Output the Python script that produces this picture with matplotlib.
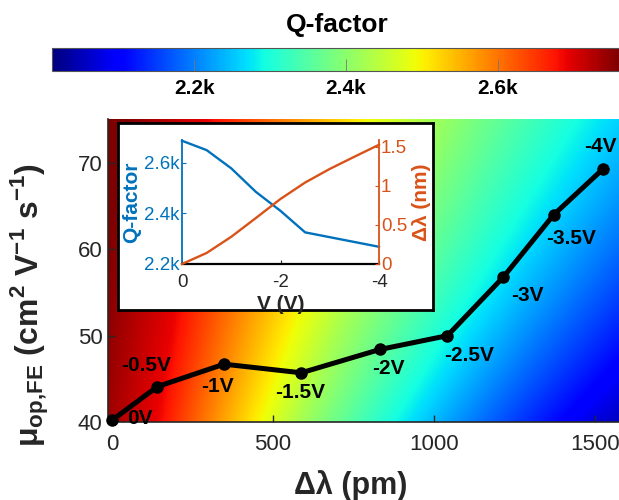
"""
Field-effect optical mobility vs. resonance shift, coloured by Q-factor,
with an inset of Q-factor and shift against gate voltage.
"""

import numpy as np
import matplotlib
import matplotlib.pyplot as plt
from matplotlib.colors import Normalize
from matplotlib.cm import ScalarMappable
from matplotlib.ticker import FuncFormatter

plt.rcParams['font.family'] = ['Liberation Sans', 'DejaVu Sans']
plt.rcParams['mathtext.fontset'] = 'custom'
plt.rcParams['mathtext.rm'] = 'Liberation Sans'
plt.rcParams['mathtext.bf'] = 'Liberation Sans:bold'
plt.rcParams['axes.unicode_minus'] = False

# Data
volts = [0, -0.5, -1, -1.5, -2, -2.5, -3, -3.5, -4]
shift_pm = [0, 141, 348, 588, 832, 1042, 1216, 1372, 1525]
mobility = [40.2, 44.1, 46.7, 45.7, 48.4, 50.0, 56.8, 64.0, 69.3]
q_factor_k = [2.687, 2.650, 2.578, 2.485, 2.410, 2.325, 2.306, 2.287, 2.268]
point_labels = ['0V', '-0.5V', '-1V', '-1.5V', '-2V', '-2.5V', '-3V', '-3.5V', '-4V']

q_ticks = [2.2, 2.4, 2.6]
q_range = (2.0125, 2.76)

# label offsets from each point, in pixels (right, down)
label_offsets = [(28, -2), (-11, -21), (-7, 22), (-1, 20), (9, 19),
                 (22, 20), (24, 19), (17, 24), (-3, -23)]

W, H = 619, 500
blue = '#0072BD'
orange = '#D95319'
gray = '#262626'


def rect(l, t, r, b):
    # figure-pixel box -> figure fraction [left, bottom, width, height]
    return [l / W, 1 - b / H, (r - l) / W, (b - t) / H]


fig = plt.figure(figsize=(W / 100, H / 100), dpi=100)

# ---- colorbar on top
norm = Normalize(*q_range)
sm = ScalarMappable(norm=norm, cmap='jet')
cax = fig.add_axes(rect(52, 48, 619, 71))
cb = fig.colorbar(sm, cax=cax, orientation='horizontal', ticks=q_ticks)
cb.outline.set_edgecolor('#555555')
cb.outline.set_linewidth(0.8)
cax.tick_params(direction='in', length=9, width=0.6, color='#777777',
                labelsize=15, pad=6, labelcolor='black')
cax.xaxis.set_major_formatter(FuncFormatter(lambda v, p: f'{v:.1f}k'))
for t in cax.get_xticklabels():
    t.set_fontweight('bold')
fig.text(337 / W, 1 - 25 / H, 'Q-factor', ha='center', va='center',
         fontsize=19, fontweight='bold')

# ---- main axes
ax = fig.add_axes(rect(108, 119, 619, 422))
xlim = (-12.4, 1575)
ylim = (40, 75.1)

# background gradient (fan-shaped, as in the original figure)
px = np.linspace(108, 619, 500)
py = np.linspace(119, 422, 300)
PX, PY = np.meshgrid(px, py)
theta = np.degrees(np.arctan2(PX - 88, 925 - PY))
height = (422 - PY) / 303
frac = np.where(theta > 8.14, 0.90 - 0.0209 * (theta - 8.14),
                0.90 + 0.012 * (8.14 - theta))
frac -= 0.04 * np.clip((theta - 8) / 15, 0, 1)
frac = np.clip(frac + 0.05 * height * np.exp(-theta / 6), 0, 1)
q_bg = q_range[0] + frac * (q_range[1] - q_range[0])
ax.imshow(q_bg, cmap='jet', norm=norm, origin='upper', aspect='auto',
          extent=(xlim[0], xlim[1], ylim[0], ylim[1]), zorder=0,
          interpolation='bilinear')

ax.plot(shift_pm, mobility, '-o', color='black', lw=3.6, ms=8,
        zorder=3, clip_on=False)
for x, y, lab, (dx, dy) in zip(shift_pm, mobility, point_labels, label_offsets):
    ax.annotate(lab, (x, y), xytext=(dx * 0.72, -dy * 0.72),
                textcoords='offset points', ha='center', va='center',
                fontsize=15, fontweight='bold', zorder=4)

ax.set_xlim(*xlim)
ax.set_ylim(*ylim)
ax.set_xticks([0, 500, 1000, 1500])
ax.set_yticks([40, 50, 60, 70])
ax.tick_params(direction='in', length=5, width=1, colors=gray, labelsize=16)
ax.tick_params(axis='x', pad=9)
ax.tick_params(axis='y', pad=4)
for s in ['top', 'right']:
    ax.spines[s].set_visible(False)
for s in ['left', 'bottom']:
    ax.spines[s].set_color(gray)
    ax.spines[s].set_linewidth(1.2)

ax.set_xlabel('Δλ (pm)', fontsize=22, fontweight='bold', color=gray,
              va='center')
ax.xaxis.set_label_coords(0.474, -0.208)
ax.set_ylabel(r'$\mathbf{\mu_{op{,}FE}}$ (cm$^\mathbf{2}$ V$^\mathbf{-1}$ s$^\mathbf{-1}$)',
              fontsize=23, fontweight='bold', color=gray, va='center')
ax.yaxis.set_label_coords(-0.153, 0.386)

# ---- inset frame
frame = fig.add_axes(rect(118, 123, 433, 310), zorder=5)
frame.set_facecolor('white')
frame.set_xticks([])
frame.set_yticks([])
for s in frame.spines.values():
    s.set_linewidth(2)
    s.set_color('black')

# ---- inset plot
iax = fig.add_axes(rect(182, 140, 379, 264), zorder=6)
iax.patch.set_alpha(0)
iax.plot(volts, q_factor_k, color=blue, lw=1.7, clip_on=False)
iax.set_xlim(0, -4)
iax.set_ylim(2.2, 2.69)
iax.set_xticks([0, -2, -4])
iax.set_xticklabels(['0', '-2', '-4'])
iax.set_yticks(q_ticks)
iax.yaxis.set_major_formatter(FuncFormatter(lambda v, p: f'{v:.1f}k'))
iax.tick_params(direction='in', length=3, labelsize=13.5, pad=1.5)
iax.tick_params(axis='x', pad=7)
iax.tick_params(axis='y', colors=blue)
iax.tick_params(axis='x', colors=gray)
iax.spines['top'].set_visible(False)
iax.spines['right'].set_visible(False)
iax.spines['left'].set_color(blue)
iax.spines['left'].set_linewidth(1.3)
iax.spines['bottom'].set_linewidth(1.6)
iax.set_xlabel('V (V)', fontsize=15, fontweight='bold', color=gray,
               va='center')
iax.xaxis.set_label_coords(0.5, -0.33)
iax.set_ylabel('Q-factor', fontsize=15, fontweight='bold', color=blue,
               va='center')
iax.yaxis.set_label_coords(-0.254, 0.5)

iax2 = iax.twinx()
iax2.plot(volts, [s / 1000 for s in shift_pm], color=orange, lw=1.7,
          clip_on=False)
iax2.set_ylim(0, 1.586)
iax2.set_yticks([0, 0.5, 1, 1.5])
iax2.set_yticklabels(['0', '0.5', '1', '1.5'])
iax2.tick_params(direction='in', length=3, labelsize=13.5, pad=1.5,
                 colors=orange)
for s in ['top', 'left', 'bottom']:
    iax2.spines[s].set_visible(False)
iax2.spines['right'].set_color(orange)
iax2.spines['right'].set_linewidth(1.3)
iax2.set_ylabel('Δλ (nm)', fontsize=15, fontweight='bold', color=orange,
                rotation=90, va='center')
iax2.yaxis.set_label_coords(1.218, 0.5)

fig.savefig('out.png', dpi=100)
